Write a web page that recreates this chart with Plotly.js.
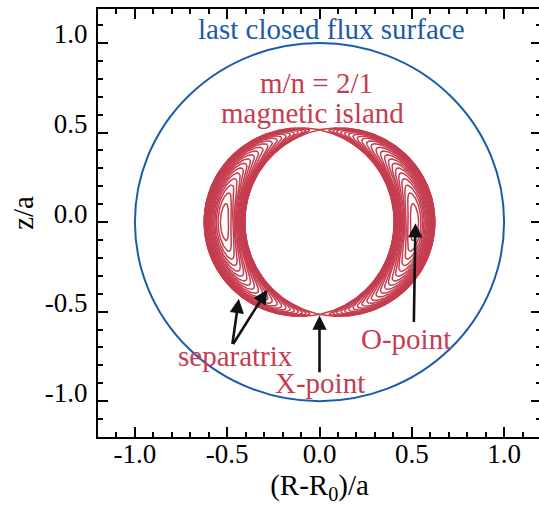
<!DOCTYPE html>
<html><head><meta charset="utf-8">
<script src="https://cdn.plot.ly/plotly-3.0.1.min.js"></script>
<style>html,body{margin:0;padding:0;overflow:hidden;background:#fff}#chart{width:541px;height:506px}</style>
</head><body><div id="chart"></div>
<script>
// ---- values ----
const lcfsRadius = [1.0];                 // last closed flux surface radius (units of a)
const islandMode = [2, 1];                // m, n
const rationalSurface = [0.515];          // radius of the m/n = 2/1 surface (X- and O-points)
const islandHalfWidth = [0.11];           // separatrix half width at the O-points
const oPointAngles = [0, 180];            // poloidal angle of the O-points (deg)
const fluxLevels = [-0.92, -0.8, -0.68, -0.56, -0.44, -0.32, -0.2, -0.08, 0.04, 0.16, 0.28, 0.4, 0.5, 0.6, 0.68, 0.75, 0.81, 0.86, 0.9, 0.935, 0.96, 0.98];
const separatrixLevel = [1.0];
const xTickVals = [-1.0, -0.5, 0.0, 0.5, 1.0];
const xTickText = ['-1.0', '-0.5', '0.0', '0.5', '1.0'];
const yTickVals = [-1.0, -0.5, 0.0, 0.5, 1.0];
const yTickText = ['-1.0', '-0.5', '0.0', '0.5', '1.0'];
const labels = ['last closed flux surface', 'm/n = 2/1', 'magnetic island', 'separatrix', 'X-point', 'O-point'];

// ---- geometry of the island contours (helical flux) ----
const RED = '#c53d4f', BLUE = '#1b5bab', FONT = 'Liberation Serif';
const m = islandMode[0], rs = rationalSurface[0];
const w = islandHalfWidth[0] / Math.sqrt(2);
function pushPt(X, Y, r, th) { X.push(r * Math.cos(th)); Y.push(r * Math.sin(th)); }
function contour(level, X, Y) {
  const N = 160;
  if (level < 1) {
    const tmax = Math.acos(-level) / m;
    oPointAngles.forEach(function (a0) {
      const c = a0 * Math.PI / 180;
      for (let i = 0; i <= N; i++) {            // outer branch
        const t = tmax * Math.sin(-Math.PI / 2 + Math.PI * i / N);
        pushPt(X, Y, rs + w * Math.sqrt(Math.max(0, level + Math.cos(m * t))), c + t);
      }
      for (let i = N; i >= 0; i--) {           // inner branch
        const t = tmax * Math.sin(-Math.PI / 2 + Math.PI * i / N);
        pushPt(X, Y, rs - w * Math.sqrt(Math.max(0, level + Math.cos(m * t))), c + t);
      }
      X.push(null); Y.push(null);
    });
  } else {
    [1, -1].forEach(function (s) {
      for (let i = 0; i <= 4 * N; i++) {
        const t = 2 * Math.PI * i / (4 * N);
        pushPt(X, Y, rs + s * w * Math.sqrt(Math.max(0, level + Math.cos(m * t))), t);
      }
      X.push(null); Y.push(null);
    });
  }
}
const ix = [], iy = [];
fluxLevels.forEach(function (L) { contour(L, ix, iy); });
const sx = [], sy = [];
separatrixLevel.forEach(function (L) { contour(L, sx, sy); });

const traces = [
  { x: ix, y: iy, type: 'scatter', mode: 'lines', line: { color: RED, width: 1.5 }, hoverinfo: 'skip', showlegend: false },
  { x: sx, y: sy, type: 'scatter', mode: 'lines', line: { color: RED, width: 1.5 }, hoverinfo: 'skip', showlegend: false }
];

function axisBase() {
  return {
    tickmode: 'array', ticks: 'inside', ticklen: 10, tickwidth: 2, tickcolor: '#000',
    showline: true, linewidth: 2, linecolor: '#000', mirror: 'allticks',
    showgrid: false, zeroline: false,
    minor: { tickmode: 'linear', tick0: 0, dtick: 0.1, ticks: 'inside', ticklen: 5, tickwidth: 2, tickcolor: '#000', showgrid: false },
    tickfont: { family: FONT, size: 27, color: '#000' }
  };
}

function txt(text, x, y, color, size) {
  return { text: text, x: x, y: y, xref: 'x', yref: 'y', showarrow: false, xanchor: 'center', yanchor: 'middle',
           font: { family: FONT, size: size, color: color } };
}
function arrow(x, y, ax, ay) {
  return { text: '', x: x, y: y, ax: ax, ay: ay, xref: 'x', yref: 'y', axref: 'x', ayref: 'y',
           showarrow: true, arrowhead: 2, arrowsize: 1.1, arrowwidth: 2.6, arrowcolor: '#111', standoff: 0, startstandoff: 0 };
}

const layout = {
  width: 541, height: 506,
  margin: { l: 98, r: 0, t: 9, b: 69 },
  font: { family: FONT, color: '#000' },
  paper_bgcolor: '#fff', plot_bgcolor: '#fff',
  xaxis: Object.assign(axisBase(), {
    range: [-1.2, 1.2], tickvals: xTickVals, ticktext: xTickText, ticklabelstandoff: -8,
    title: { text: '(R-R<sub>0</sub>)/a', font: { family: FONT, size: 29, color: '#000' }, standoff: 5 }
  }),
  yaxis: Object.assign(axisBase(), {
    range: [-1.2, 1.19], tickvals: yTickVals, ticktext: yTickText, ticklabelstandoff: 3, ticklabelshift: -9,
    title: { text: '' }
  }),
  shapes: [{ type: 'circle', xref: 'x', yref: 'y', x0: -lcfsRadius[0], x1: lcfsRadius[0], y0: -lcfsRadius[0], y1: lcfsRadius[0],
             line: { color: BLUE, width: 2 }, layer: 'above' }],
  annotations: [
    { text: 'z/a', xref: 'paper', yref: 'paper', x: -0.17, y: 0.523, showarrow: false, textangle: -90,
      xanchor: 'center', yanchor: 'middle', font: { family: FONT, size: 29, color: '#000' } },
    txt(labels[0], 0.065, 1.077, BLUE, 29),
    txt(labels[1], -0.016, 0.775, RED, 29),
    txt(labels[2], -0.038, 0.607, RED, 29),
    txt(labels[3], -0.455, -0.745, RED, 29),
    txt(labels[4], 0.005, -0.9, RED, 29),
    txt(labels[5], 0.466, -0.65, RED, 29),
    arrow(-0.437, -0.428, -0.473, -0.689),
    arrow(-0.283, -0.378, -0.473, -0.689),
    arrow(0.0, -0.521, 0.0, -0.847),
    arrow(0.52, -0.006, 0.511, -0.566)
  ]
};
Plotly.newPlot('chart', traces, layout, { staticPlot: true, displayModeBar: false });
</script></body></html>
